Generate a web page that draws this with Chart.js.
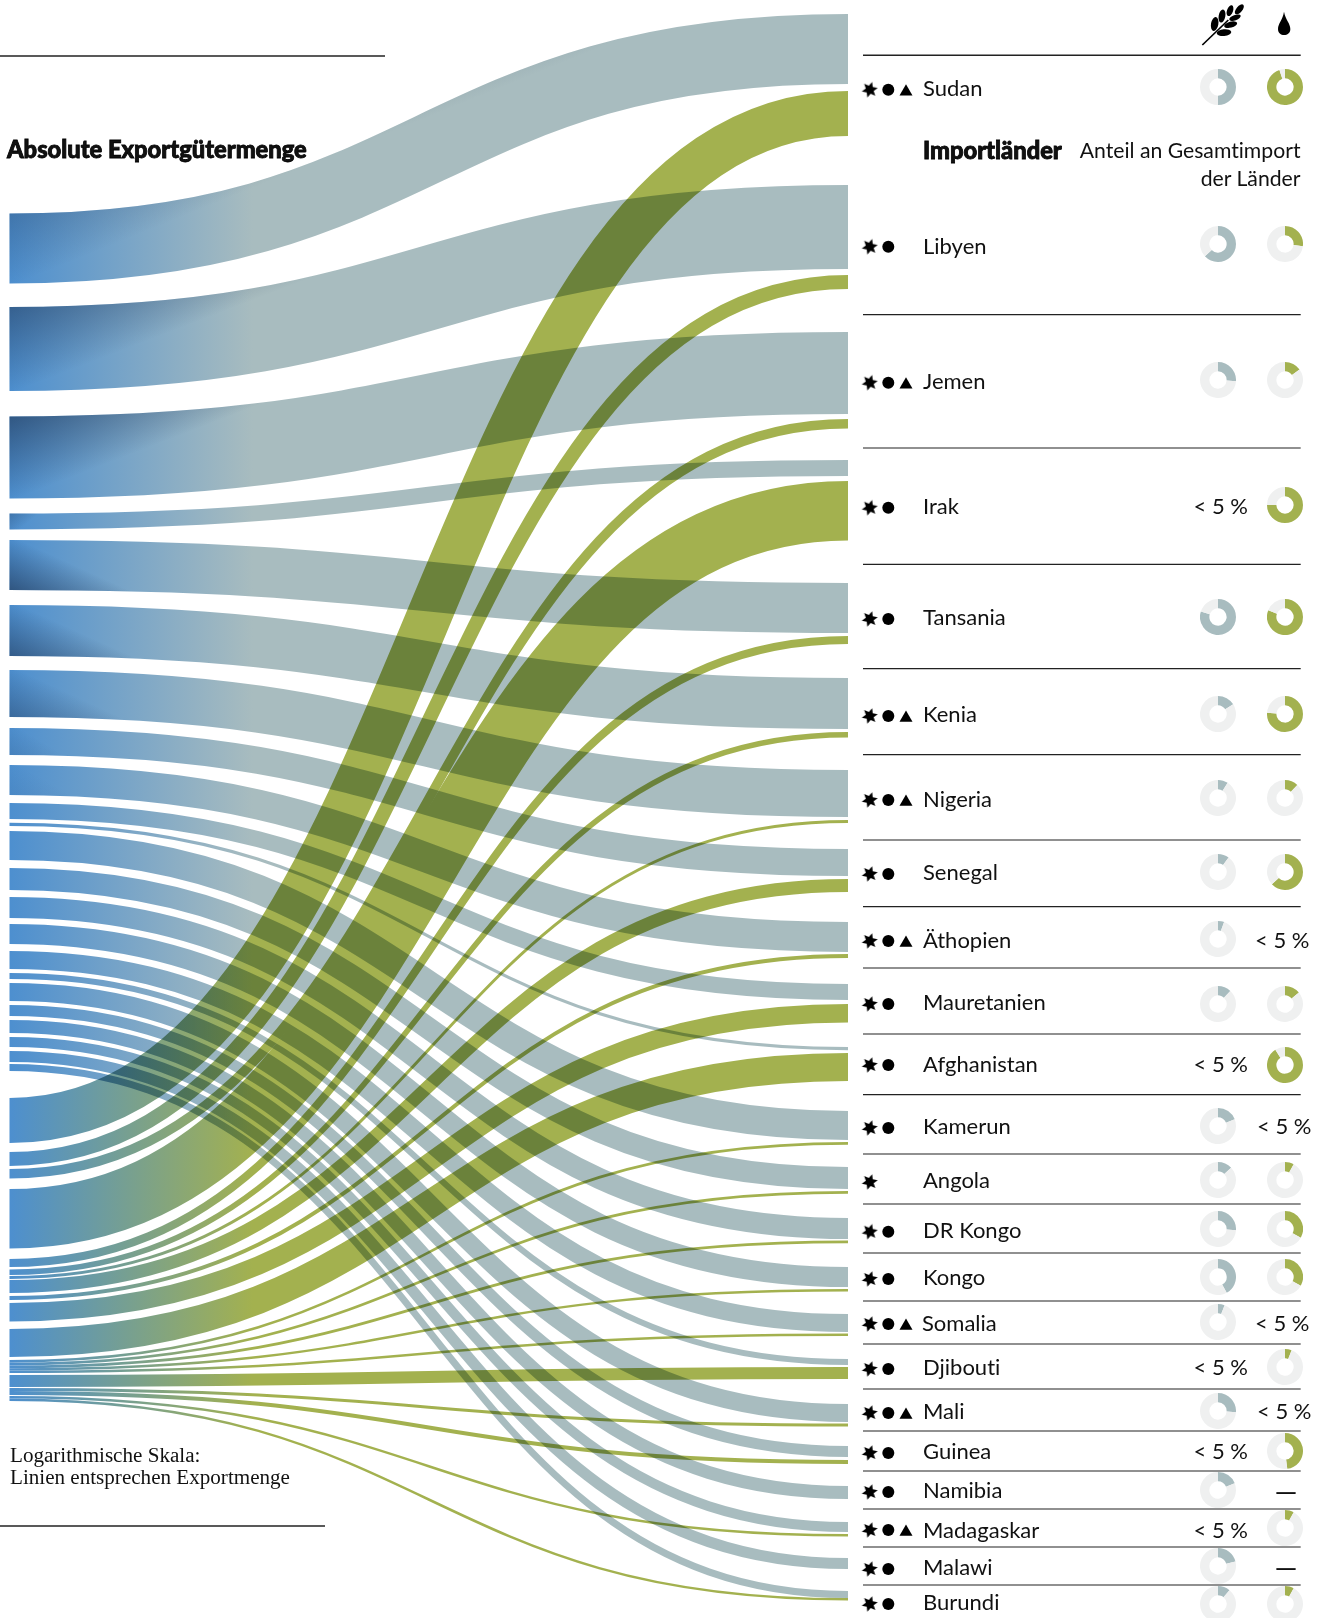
<!DOCTYPE html>
<html lang="de">
<head>
<meta charset="utf-8">
<title>Exportgütermenge</title>
<script src="https://cdn.jsdelivr.net/npm/chart.js@4"></script>
<style>
html,body{margin:0;padding:0;background:#fff;}
#page{position:relative;width:1327px;height:1618px;overflow:hidden;background:#fff;font-family:Lato,sans-serif;color:#111;}
#main{position:absolute;left:0;top:0;}
.t{position:absolute;white-space:nowrap;line-height:1;transform:translateY(-50%);font-variant-ligatures:none;}
.name{font-size:22px;}
.sub{font-size:21.2px;}
.dash{font-size:29px;font-weight:400;}
.head{font-size:23.7px;font-weight:900;-webkit-text-stroke:.8px #000;}
.serif{font-family:"Liberation Serif",serif;font-size:21.1px;}
.d{position:absolute;width:36px;height:36px;}
svg{position:absolute;}
</style>
</head>
<body>
<div id="page"><canvas id="main" width="1327" height="1618"></canvas></div>
<script>
// ---------- data ----------
const countries = ["Sudan","Libyen","Jemen","Irak","Tansania","Kenia","Nigeria","Senegal","Äthopien","Mauretanien","Afghanistan","Kamerun","Angola","DR Kongo","Kongo","Somalia","Djibouti","Mali","Guinea","Namibia","Madagaskar","Malawi","Burundi"];
// flow widths and end points (axis units)
const grainValues    = [70,84,82,16,50,51,47,27,30,16,3.2,29,22,21,20,18,6,18,11,13,10,11,7];
const grainSourceTop = [213.5,307,416.5,513.5,540,605,670,728,765,803,822.7,831,868,897,924,951,973,983,1005,1020,1037,1051,1064];
const grainTargetTop = [14,185,332,460,583,678,770,849,922,984,1047,1111,1167,1218,1267,1314,1359,1404,1446,1486,1522,1558,1591];
const oilCountries   = ["Sudan","Libyen","Jemen","Irak","Tansania","Kenia","Nigeria","Senegal","Äthopien","Mauretanien","Afghanistan","Kamerun","Angola","DR Kongo","Kongo","Somalia","Djibouti","Mali","Guinea","Madagaskar","Burundi"];
const oilValues      = [45,14,9.5,59.5,8,5.5,3,13,4,18.5,28,2.7,2.7,2.8,2.4,2.5,12,3,4,2.5,2.5];
const oilSourceTop   = [1098,1152,1169,1189,1259,1269.5,1276,1280,1296,1303,1329,1360,1362.7,1365.4,1368.2,1370.6,1375,1388,1391,1396,1398.5];
const oilTargetTop   = [91,275,419,481,636,732,820,879,954,1004,1053,1142,1191,1240.5,1289,1333.5,1367,1423.5,1460,1534,1598];
// share of total imports in percent; null = "< 5 %", "none" = no imports
const grainShare = [50,63,26,null,80,16,9,10,5.5,12,null,19,13,26,42,6,null,26,null,19,null,21,11];
const oilShare   = [95,27,15,75,81,76,12,63,null,14,91,null,8,33,33,null,6,null,48,"none",8,"none",8];
// symbols per country
const hasCircle   = [1,1,1,1,1,1,1,1,1,1,1,1,0,1,1,1,1,1,1,1,1,1,1];
const hasTriangle = [1,0,1,0,0,1,1,0,1,0,0,0,0,0,0,1,0,1,0,0,1,0,0];

// ---------- layout ----------
const rowY    = [87.3,244,380,505,617,714,798,872,939,1004,1065,1126,1180,1229,1277,1322,1367,1411,1451,1490,1528,1566,1604];
const labelY  = [88.2,245.5,381.2,506.2,616.5,714.2,798.5,872.2,939.5,1002.2,1063.5,1125.5,1180.2,1230.2,1277.2,1322.5,1366.5,1411.2,1451.2,1490.2,1529.5,1566.5,1601.5];
const symbolY = [89.7,246.7,382.7,507.7,619,716,800,874,941,1004,1065,1128,1182,1231.7,1279,1324,1369,1413,1453,1492,1530,1569,1604];
const ruleY   = [314.7,448,564.3,668.7,754.7,840,906.7,968,1034,1094.7,1154,1204,1253,1301,1344,1389,1431,1471,1509,1547,1585];
const oilLessX = {8:1255,11:1257,15:1255,17:1257};
const grainShade = [.28,.5,.6,.28,-.62,-.55,-.4,-.15,-.08,0,0,0,0,0,0,0,0,0,0,0,0,0,0];
const X0 = 9.5, X1 = 848;
const BLUE = "#4d8fcf", GRAIN = "#a8bcbf", OIL = "#a3b14f", REST = "#eff0f0";

// the oil flows are collected on one layer, which is multiplied over the grain flows
const oilLayer = document.createElement("canvas");
oilLayer.width = 1327; oilLayer.height = 1618;

// ---------- flow controller: one stroked S-curve per dataset ----------
class FlowController extends Chart.controllers.line {
  draw() {
    const {scales} = this.chart;
    const ds = this.getDataset();
    const ctx = ds.flowLayer ? oilLayer.getContext("2d") : this.chart.ctx;
    const [a, b] = this.getMeta().data;
    const width = Math.abs(scales.y.getPixelForValue(ds.flowValue) - scales.y.getPixelForValue(0));
    const mx = (a.x + b.x) / 2;
    const path = new Path2D();
    path.moveTo(a.x, a.y);
    path.bezierCurveTo(mx, a.y, mx, b.y, b.x, b.y);
    const g = ctx.createLinearGradient(a.x, 0, b.x, 0);
    g.addColorStop(0, BLUE);
    g.addColorStop(0.29, ds.flowColor);
    g.addColorStop(1, ds.flowColor);
    ctx.save();
    ctx.lineCap = "butt";
    ctx.lineWidth = width;
    ctx.strokeStyle = g;
    ctx.stroke(path);
    if (ds.flowShade) {
      const s = ds.flowShade, dir = s > 0 ? 1 : -1;
      const cy = a.y - dir * width / 2;
      const r = ctx.createLinearGradient(a.x, cy, a.x + 0.25 * width + 8, cy + dir * 0.9 * width);
      r.addColorStop(0, "rgba(30,50,80," + Math.abs(s) + ")");
      r.addColorStop(1, "rgba(30,50,80,0)");
      ctx.strokeStyle = r;
      ctx.stroke(path);
    }
    ctx.restore();
  }
}
FlowController.id = "flow";
FlowController.defaults = Object.assign({}, Chart.controllers.line.defaults);
Chart.register(FlowController);

function flowDataset(label, v, src, tgt, color, layer, order, shade) {
  return {
    type: "flow", label, order, clip: false,
    flowValue: v, flowColor: color, flowLayer: layer, flowShade: shade || 0,
    data: [{x: X0, y: src + v / 2}, {x: X1, y: tgt + v / 2}],
    pointRadius: 0
  };
}

// ---------- symbols ----------
function starImage() {
  const c = document.createElement("canvas");
  c.width = 18; c.height = 18;
  const k = c.getContext("2d");
  k.beginPath();
  for (let i = 0; i < 12; i++) {
    const r = i % 2 ? 4.1 : 8.2;
    const an = Math.PI / 6 * i + 0.3;
    k[i ? "lineTo" : "moveTo"](9 + r * Math.sin(an), 9 - r * Math.cos(an));
  }
  k.closePath();
  k.fillStyle = "#000";
  k.fill();
  return c;
}
const starX = 869.7, circleX = 888.3, triX = 906;
const symbolSets = [
  {type:"scatter",label:"Stern",order:-1,clip:false,pointStyle:starImage(),pointRadius:9,
   data:countries.map((_, i) => ({x:starX,y:symbolY[i]}))},
  {type:"scatter",label:"Kreis",order:-1,clip:false,pointStyle:"circle",pointRadius:6,pointBorderWidth:0,backgroundColor:"#000",
   data:countries.map((_, i) => hasCircle[i] ? {x:circleX,y:symbolY[i]} : null).filter(Boolean)},
  {type:"scatter",label:"Dreieck",order:-1,clip:false,pointStyle:"triangle",pointRadius:7.5,pointBorderWidth:0,backgroundColor:"#000",
   data:countries.map((_, i) => hasTriangle[i] ? {x:triX,y:symbolY[i] + 2} : null).filter(Boolean)}
];

// ---------- oil layer and rules ----------
const rulesPlugin = {
  id: "rules",
  afterDatasetsDraw(chart) {
    const {ctx, scales:{x, y}} = chart;
    ctx.save();
    ctx.globalCompositeOperation = "multiply";
    ctx.drawImage(oilLayer, 0, 0);
    ctx.restore();
    const rule = (x0, x1, yy, w) => {
      ctx.beginPath();
      ctx.moveTo(x.getPixelForValue(x0), y.getPixelForValue(yy));
      ctx.lineTo(x.getPixelForValue(x1), y.getPixelForValue(yy));
      ctx.lineWidth = w; ctx.strokeStyle = "#222"; ctx.stroke();
    };
    rule(0, 385, 56, 1.5);
    rule(0, 325, 1526, 1.5);
    rule(863, 1300.7, 55.3, 1.5);
    ruleY.forEach(v => rule(863, 1300.7, v, 1.2));
  }
};

new Chart(document.getElementById("main"), {
  type: "scatter",
  data: {
    datasets: [
      ...symbolSets,
      ...oilValues.map((v, i) => flowDataset(oilCountries[i], v, oilSourceTop[i], oilTargetTop[i], OIL, true, 1)),
      ...grainValues.map((v, i) => flowDataset(countries[i], v, grainSourceTop[i], grainTargetTop[i], GRAIN, false, 2, grainShade[i]))
    ]
  },
  options: {
    responsive: false, animation: false, events: [],
    layout: {padding: 0, autoPadding: false},
    plugins: {legend: {display: false}, tooltip: {enabled: false}, title: {display: false}},
    scales: {
      x: {type: "linear", min: 0, max: 1327, display: false},
      y: {type: "linear", min: 0, max: 1618, reverse: true, display: false}
    }
  },
  plugins: [rulesPlugin]
});

// ---------- texts and doughnuts ----------
const page = document.getElementById("page");
function text(str, x, y, cls, right) {
  const e = document.createElement("div");
  e.className = "t " + cls;
  e.textContent = str;
  e.style.top = y + "px";
  if (right) e.style.right = (1327 - x) + "px"; else e.style.left = x + "px";
  page.appendChild(e);
}
function donut(cx, cy, share, color) {
  const c = document.createElement("canvas");
  c.className = "d"; c.width = 36; c.height = 36;
  c.style.left = (cx - 18) + "px"; c.style.top = (cy - 18) + "px";
  page.appendChild(c);
  new Chart(c, {
    type: "doughnut",
    data: {labels: ["Anteil", "Rest"], datasets: [{data: [share, 100 - share], backgroundColor: [color, REST], borderWidth: 0}]},
    options: {responsive: false, animation: false, events: [], cutout: "48%", layout: {padding: 0},
      plugins: {legend: {display: false}, tooltip: {enabled: false}}}
  });
}
const GX = 1218, OX = 1285.3;
countries.forEach((name, i) => {
  text(name, i === 15 ? 922 : 923, labelY[i], "name");
  if (grainShare[i] === null) text("< 5 %", 1193.5, labelY[i], "name");
  else donut(GX, rowY[i], grainShare[i], GRAIN);
  if (oilShare[i] === null) text("< 5 %", oilLessX[i] || 1255, labelY[i], "name");
  else if (oilShare[i] === "none") text("—", 1274.5, rowY[i], "dash");
  else donut(OX, rowY[i], oilShare[i], OIL);
});
text("Absolute Exportgütermenge", 7, 150, "head");
text("Importländer", 923, 150.7, "head");
text("Anteil an Gesamtimport", 1300.5, 150.7, "sub", true);
text("der Länder", 1300.5, 178.7, "sub", true);
text("Logarithmische Skala:", 10, 1456, "serif");
text("Linien entsprechen Exportmenge", 10, 1478, "serif");

// header icons
page.insertAdjacentHTML("beforeend",
 '<svg style="left:1201px;top:3px" width="46" height="45" viewBox="1083 9 138 135">' +
 '<path d="M1087,135 L1165,60" stroke="#000" stroke-width="5" fill="none"/>' +
 [[1124,72,11,21,10],[1146,48,10,20,10],[1170,32,9,17,20],[1152,98,22,10,-5],[1172,74,20,9,-15],[1185,53,18,8,-20],[1198,28,9,18,40]]
   .map(l => '<ellipse cx="'+l[0]+'" cy="'+l[1]+'" rx="'+l[2]+'" ry="'+l[3]+'" transform="rotate('+l[4]+' '+l[0]+' '+l[1]+')"/>').join("") +
 '</svg>' +
 '<svg style="left:1277px;top:11px" width="15" height="25" viewBox="1312 33 45 75">' +
 '<path d="M1333,35 C1329,60 1315,70 1315,87 C1315,99 1324,105 1333,105 C1343,105 1352,99 1352,87 C1352,70 1338,60 1333,35Z"/>' +
 '</svg>');
</script>
</body>
</html>
